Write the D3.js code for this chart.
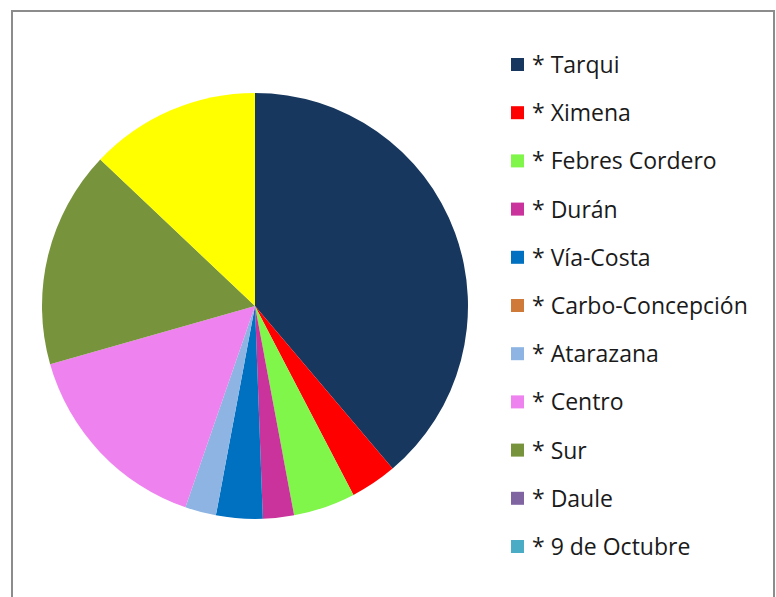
<!DOCTYPE html>
<html>
<head>
<meta charset="utf-8">
<script src="https://cdn.jsdelivr.net/npm/d3@7"></script>
<style>
  body { margin: 0; background: #fff; }
</style>
</head>
<body>
<div id="chart-area"></div>
<script>
// sectores y cantidades
let sectores = ["* Tarqui", "* Ximena", "* Febres Cordero", "* Durán", "* Vía-Costa",
  "* Carbo-Concepción", "* Atarazana", "* Centro", "* Sur", "* Daule", "* 9 de Octubre", "* Otros"];
let valores = [33, 3, 4, 2, 3, 0, 2, 13, 14, 0, 0, 11];
let colores = ["#17375E", "#FF0000", "#80F54A", "#C9339B", "#0070C0",
  "#D07A3A", "#8DB4E2", "#EE82EE", "#77933C", "#8064A2", "#4BACC6", "#FFFF00"];

let width = 776, height = 597;

let svg = d3.select("#chart-area").append("svg")
  .attr("width", width).attr("height", height);

// marco del grafico
svg.append("rect")
  .attr("x", 12).attr("y", 11)
  .attr("width", 762).attr("height", 600)
  .attr("fill", "#fff")
  .attr("stroke", "#8c8c8c").attr("stroke-width", 2);

let data = sectores.map((s, i) => ({ nombre: s, valor: valores[i], color: colores[i] }));

let pie = d3.pie().sort(null).value(d => d.valor);
let arc = d3.arc().innerRadius(0).outerRadius(213);

let g = svg.append("g").attr("transform", "translate(255,306)");

g.selectAll("path")
  .data(pie(data))
  .enter()
  .append("path")
    .attr("d", arc)
    .attr("fill", d => d.data.color);

// leyenda (el ultimo elemento queda fuera del marco)
let legend = svg.append("g").attr("transform", "translate(511,0)");

let items = legend.selectAll("g")
  .data(data.slice(0, 11))
  .enter()
  .append("g")
    .attr("transform", (d, i) => "translate(0," + (64.5 + i * 48.2) + ")");

items.append("rect")
  .attr("x", 0).attr("y", -6.5)
  .attr("width", 13).attr("height", 13)
  .attr("fill", d => d.color);

items.append("text")
  .attr("x", 21).attr("y", 8.5)
  .attr("font-family", "Open Sans, sans-serif")
  .attr("font-size", 23)
  .attr("fill", "#1a1a1a")
  .text(d => d.nombre);
</script>
</body>
</html>
